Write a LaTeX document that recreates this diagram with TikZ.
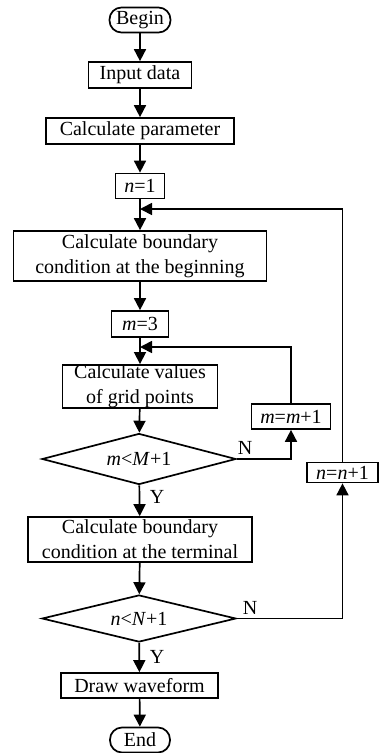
\documentclass[tikz,border=0pt]{standalone}
\usepackage{fontspec}
\setmainfont{Liberation Serif}
\usetikzlibrary{arrows.meta,shapes.geometric}
\begin{document}
\begin{tikzpicture}[x=1pt,y=1pt,
  font=\fontsize{20}{25}\selectfont,
  line width=1.7pt,
  >={Triangle[length=12pt,width=12pt]},
  box/.style={draw, inner sep=0pt, align=center},
  term/.style={draw, rounded corners=12pt, inner sep=0pt},
  dec/.style={draw, diamond, inner sep=0pt, aspect=3.8}]
\useasboundingbox (0,0) rectangle (379,-753);
\node[term, minimum width=61pt, minimum height=25pt] (begin) at (140,-20) {Begin};
\node[box, minimum width=103pt, minimum height=26pt] (input) at (140,-75) {Input data};
\node[box, minimum width=188pt, minimum height=26pt] (param) at (140,-131) {Calculate parameter};
\node[box, minimum width=49pt, minimum height=25pt] (n1) at (140,-186) {\textit{n}=1};
\node[box, minimum width=253pt, minimum height=50pt] (bb) at (140,-256) {Calculate boundary\\condition at the beginning};
\node[box, minimum width=57pt, minimum height=26pt] (m3) at (140,-324) {\textit{m}=3};
\node[box, minimum width=155pt, minimum height=43pt] (cv) at (140,-386.5) {Calculate values\\of grid points};
\node[box, minimum width=79pt, minimum height=25pt] (mm) at (291,-416.5) {\textit{m}=\textit{m}+1};
\node[dec, minimum width=194pt, minimum height=51pt] (dm) at (139,-459) {\textit{m}<\textit{M}+1};
\node[box, minimum width=71pt, minimum height=20pt] (nn) at (342.5,-472.5) {\textit{n}=\textit{n}+1};
\node[box, minimum width=224pt, minimum height=45pt] (bt) at (140,-539.5) {Calculate boundary\\condition at the terminal};
\node[dec, minimum width=194pt, minimum height=47pt] (dn) at (139,-618.5) {\textit{n}<\textit{N}+1};
\node[box, minimum width=157pt, minimum height=25pt] (dw) at (139.5,-685.5) {Draw waveform};
\node[term, minimum width=60pt, minimum height=25pt] (end) at (140,-740) {End};
\node (ln1) at (245,-448) {N};
\node (ly1) at (157,-497) {Y};
\node (ln2) at (250,-608) {N};
\node (ly2) at (157,-657) {Y};
\coordinate (j1) at (140,-209);
\coordinate (j2) at (140,-347);
\draw[->] (begin) -- (input);
\draw[->] (input) -- (param);
\draw[->] (param) -- (n1);
\draw[->] (n1) -- (bb);
\draw[->] (bb) -- (m3);
\draw[->] (m3) -- (cv);
\draw[->] (cv) -- (dm);
\draw[->] (dm) -- (bt);
\draw[->] (bt) -- (dn);
\draw[->] (dn) -- (dw);
\draw[->] (dw) -- (end);
\draw[->] (dm.east) -| (mm.south);
\draw[->] (mm.north) |- (j2);
\draw[->] (dn.east) -| (nn.south);
\draw[->] (nn.north) |- (j1);
\end{tikzpicture}
\end{document}
